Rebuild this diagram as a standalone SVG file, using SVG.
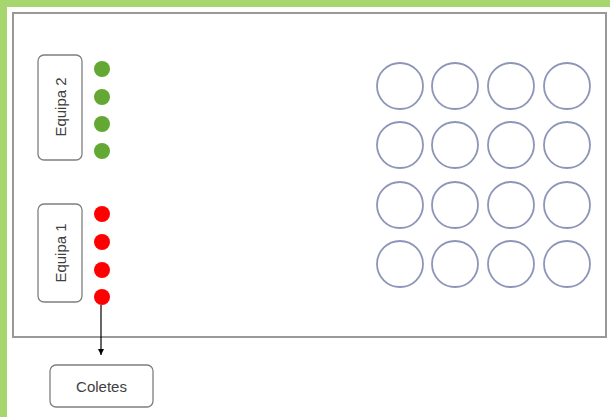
<svg xmlns="http://www.w3.org/2000/svg" width="610" height="417" viewBox="0 0 610 417">
<defs>
<style>
.box{fill:#fff;stroke:#7f7f7f;stroke-width:1.3}
.lbl{font-family:"Liberation Sans",Arial,sans-serif;font-size:15px;fill:#404040;text-anchor:middle;dominant-baseline:central}
.g{fill:#62a832}
.r{fill:#ff0000}
.c{fill:none;stroke:#8d96b8;stroke-width:1.8}
.con{stroke:#000;stroke-width:1.2;fill:none}
</style>
<marker id="ah" markerWidth="8" markerHeight="8" refX="6" refY="4" orient="auto" markerUnits="userSpaceOnUse">
<path d="M0,1 L6,4 L0,7 Z" fill="#000"/>
</marker>
</defs>
<rect x="0" y="0" width="610" height="417" fill="#fff"/>
<rect x="0" y="0" width="610" height="7" fill="#a8d66e"/>
<rect x="0" y="0" width="7" height="417" fill="#a8d66e"/>
<g id="field">
<rect x="13" y="13" width="593" height="324" fill="#fff" stroke="#999" stroke-width="2"/>
</g>
<g id="equipa2">
<rect class="box" x="38" y="55" width="44" height="105" rx="6"/>
<text class="lbl" transform="translate(60,107) rotate(-90)">Equipa 2</text>
</g>
<g id="dots2">
<circle class="g" cx="102" cy="69" r="8"/>
<circle class="g" cx="102" cy="97" r="8"/>
<circle class="g" cx="102" cy="124" r="8"/>
<circle class="g" cx="102" cy="151" r="8"/>
</g>
<g id="equipa1">
<rect class="box" x="38" y="204" width="44" height="98" rx="6"/>
<text class="lbl" transform="translate(60,253) rotate(-90)">Equipa 1</text>
</g>
<g id="dots1">
<circle class="r" cx="102" cy="214" r="8"/>
<circle class="r" cx="102" cy="242" r="8"/>
<circle class="r" cx="102" cy="270" r="8"/>
<circle class="r" cx="102" cy="297" r="8"/>
</g>
<g id="coletes">
<rect class="box" x="50" y="365" width="103" height="42" rx="6"/>
<text class="lbl" x="101.5" y="386">Coletes</text>
</g>
<g id="connectors">
<line class="con" x1="101" y1="305" x2="101" y2="355" marker-end="url(#ah)"/>
</g>
<g id="grid">
<circle class="c" cx="400" cy="86" r="23"/>
<circle class="c" cx="455" cy="86" r="23"/>
<circle class="c" cx="511" cy="86" r="23"/>
<circle class="c" cx="567" cy="86" r="23"/>
<circle class="c" cx="400" cy="145" r="23"/>
<circle class="c" cx="455" cy="145" r="23"/>
<circle class="c" cx="511" cy="145" r="23"/>
<circle class="c" cx="567" cy="145" r="23"/>
<circle class="c" cx="400" cy="205" r="23"/>
<circle class="c" cx="455" cy="205" r="23"/>
<circle class="c" cx="511" cy="205" r="23"/>
<circle class="c" cx="567" cy="205" r="23"/>
<circle class="c" cx="400" cy="264" r="23"/>
<circle class="c" cx="455" cy="264" r="23"/>
<circle class="c" cx="511" cy="264" r="23"/>
<circle class="c" cx="567" cy="264" r="23"/>
</g>
</svg>
